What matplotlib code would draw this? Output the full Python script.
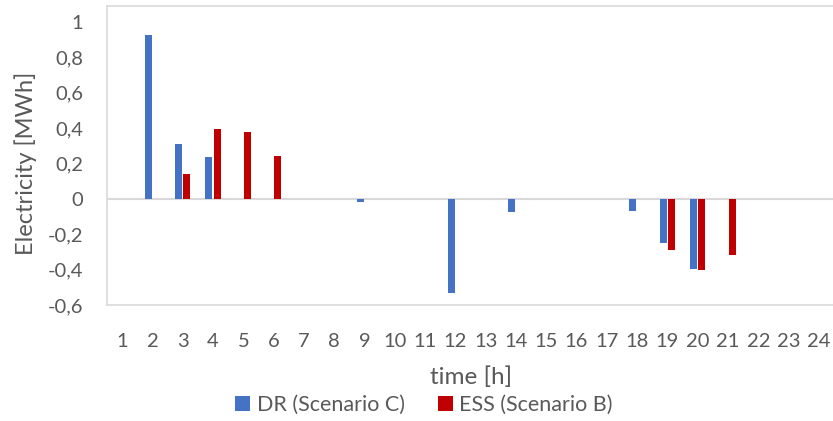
import numpy as np
import matplotlib
matplotlib.use('Agg')
import matplotlib.pyplot as plt
from matplotlib.ticker import FuncFormatter

plt.rcParams['font.family'] = ['Lato', 'DejaVu Sans']

# データ
hours = np.arange(1, 25)
dr_c = [0, 0.924, 0.308, 0.238, 0, 0, 0, 0, -0.02, 0, 0, -0.533,
        0, -0.077, 0, 0, 0, -0.07, -0.25, -0.396, 0, 0, 0, 0]
ess_b = [0, 0, 0.143, 0.394, 0.379, 0.244, 0, 0, 0, 0, 0, 0,
         0, 0, 0, 0, 0, 0, -0.29, -0.4, -0.317, 0, 0, 0]
yticks = [-0.6, -0.4, -0.2, 0, 0.2, 0.4, 0.6, 0.8, 1]

W, H = 833, 421
fig = plt.figure(figsize=(W / 100, H / 100), dpi=100)
ax = fig.add_axes([107 / W, 1 - 305 / H, (834 - 107) / W, (305 - 6) / H])

w = 0.23
ax.bar(hours - 0.14, dr_c, width=w, color='#4472C4', label='DR (Scenario C)', zorder=3)
ax.bar(hours + 0.14, ess_b, width=w, color='#C00000', label='ESS (Scenario B)', zorder=3)

ax.set_xlim(0.5, 24.5)
ax.set_ylim(-0.6, 1.09)
ax.set_yticks(yticks)
ax.yaxis.set_major_formatter(FuncFormatter(lambda v, p: ('%g' % round(v, 1)).replace('.', ',')))
ax.set_xticks(hours)
ax.tick_params(length=0, labelsize=14.5, colors='#595959')
ax.tick_params(axis='x', pad=20)
ax.tick_params(axis='y', pad=17)

ax.spines['right'].set_visible(False)
for s in ['top', 'left', 'bottom']:
    ax.spines[s].set_color('#d9d9d9')
    ax.spines[s].set_linewidth(1.2)
ax.axhline(0, color='#d9d9d9', lw=1.5, zorder=2)

# 軸タイトル
fig.text(471 / W, 1 - 377 / H, 'time [h]', fontsize=17.5, color='#595959', ha='center', va='center')
fig.text(26 / W, 1 - 163 / H, 'Electricity [MWh]', fontsize=17, color='#595959',
         ha='center', va='center', rotation=90)

ax.legend(loc='center', bbox_to_anchor=(424 / W, 1 - 405 / H), bbox_transform=fig.transFigure,
          ncol=2, frameon=False, fontsize=15.5, labelcolor='#595959',
          handlelength=0.7, handleheight=0.7, columnspacing=1.55, handletextpad=0.3)

fig.savefig('out.png', dpi=100)
